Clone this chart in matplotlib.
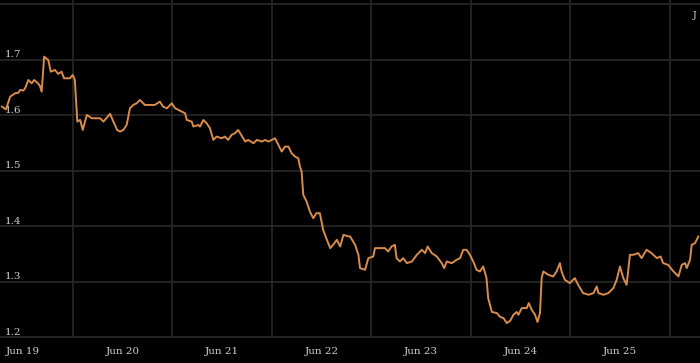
import matplotlib
matplotlib.use('Agg')
import matplotlib.pyplot as plt
import matplotlib.transforms as mtransforms

# hours since Jun 19 00:00 and price
hours = [-5.1, -4.1, -3.1, -1.9, -1.1, -0.7, 0.1, 0.5, 1.3, 2.1, 2.7, 3.6, 4.1, 4.5,
         5.1, 6.1, 6.7, 7.7, 8.5, 9.3, 9.9, 11.3, 12.0, 12.5, 13.1, 13.8, 14.4, 15.4,
         16.6, 18.6, 19.4, 21.0, 21.8, 22.7, 23.4, 24.2, 25.0, 25.8, 26.6, 27.4, 28.2,
         29.4, 31.8, 33.0, 33.8, 34.7, 35.9, 36.7, 38.3, 39.1, 39.5, 40.7, 41.1, 42.3,
         42.7, 43.5, 44.3, 45.1, 45.9, 46.7, 47.9, 48.7, 49.5, 50.3, 51.1, 51.9, 53.6,
         54.3, 55.6, 56.4, 57.6, 58.4, 59.2, 60.0, 60.8, 61.6, 62.4, 63.2, 64.0, 64.8,
         65.6, 66.4, 66.8, 67.2, 67.6, 68.4, 69.2, 70.0, 70.8, 71.6, 72.4, 73.3, 74.1,
         74.8, 75.7, 76.5, 77.3, 78.5, 78.9, 80.1, 80.9, 81.3, 82.5, 83.3, 84.5, 84.9,
         86.1, 87.3, 88.1, 88.9, 89.7, 90.1, 90.9, 91.7, 92.6, 93.8, 95.0, 96.2, 97.0,
         97.6, 98.6, 99.8, 101.0, 101.6, 102.2, 103.4, 104.6, 105.4, 106.2, 107.0, 107.8,
         108.6, 109.4, 110.2, 111.0, 111.8, 112.2, 113.1, 114.3, 115.1, 115.9, 116.7,
         117.5, 118.3, 119.1, 119.5, 120.3, 121.5, 122.0, 122.7, 123.5, 124.1, 124.7,
         125.1, 125.5, 126.7, 127.9, 128.7, 129.5, 129.9, 130.7, 131.9, 133.1, 133.9,
         135.1, 136.4, 137.6, 138.4, 138.8, 140.0, 141.2, 142.4, 143.2, 144.0, 144.8,
         145.6, 146.4, 147.2, 148.4, 149.2, 150.4, 151.6, 152.9, 153.8, 154.4, 155.6,
         156.9, 158.1, 158.9, 159.7, 160.1, 160.9, 161.3, 162.1, 162.9]
prices = [1.616, 1.611, 1.634, 1.640, 1.641, 1.646, 1.645, 1.649, 1.664, 1.658, 1.664,
          1.658, 1.653, 1.643, 1.706, 1.700, 1.679, 1.682, 1.675, 1.679, 1.667, 1.667,
          1.673, 1.664, 1.589, 1.592, 1.574, 1.601, 1.595, 1.595, 1.589, 1.603, 1.589,
          1.574, 1.571, 1.574, 1.583, 1.613, 1.619, 1.622, 1.628, 1.619, 1.619, 1.625,
          1.616, 1.613, 1.622, 1.613, 1.607, 1.604, 1.592, 1.589, 1.580, 1.583, 1.580,
          1.592, 1.586, 1.577, 1.556, 1.562, 1.559, 1.562, 1.556, 1.565, 1.568, 1.574,
          1.553, 1.556, 1.550, 1.556, 1.553, 1.556, 1.553, 1.556, 1.559, 1.547, 1.535,
          1.544, 1.544, 1.532, 1.526, 1.523, 1.508, 1.499, 1.457, 1.445, 1.427, 1.415,
          1.424, 1.424, 1.394, 1.376, 1.361, 1.367, 1.376, 1.364, 1.385, 1.382, 1.382,
          1.367, 1.349, 1.325, 1.322, 1.343, 1.346, 1.361, 1.361, 1.361, 1.355, 1.364,
          1.367, 1.343, 1.337, 1.343, 1.334, 1.337, 1.349, 1.358, 1.352, 1.364, 1.352,
          1.346, 1.334, 1.325, 1.337, 1.334, 1.340, 1.343, 1.358, 1.358, 1.349, 1.337,
          1.322, 1.319, 1.328, 1.307, 1.271, 1.246, 1.244, 1.237, 1.235, 1.226, 1.230,
          1.241, 1.246, 1.241, 1.253, 1.253, 1.262, 1.250, 1.241, 1.228, 1.244, 1.307,
          1.319, 1.313, 1.310, 1.319, 1.334, 1.319, 1.304, 1.298, 1.307, 1.295, 1.280,
          1.277, 1.280, 1.292, 1.280, 1.277, 1.280, 1.289, 1.304, 1.328, 1.307, 1.295,
          1.349, 1.349, 1.352, 1.343, 1.358, 1.352, 1.343, 1.346, 1.334, 1.331, 1.319,
          1.310, 1.331, 1.334, 1.325, 1.340, 1.367, 1.370, 1.382]

day_labels = ['Jun 19', 'Jun 20', 'Jun 21', 'Jun 22', 'Jun 23', 'Jun 24', 'Jun 25']
y_ticks = [1.2, 1.3, 1.4, 1.5, 1.6, 1.7, 1.8]
y_labels = ['1.2', '1.3', '1.4', '1.5', '1.6', '1.7']
corner_label = 'J'

line_color = '#d98c4c'
grid_color = '#282828'
text_color = '#cfcfcf'

px_per_hour = 99.5 / 24

fig = plt.figure(figsize=(7, 3.63), dpi=100, facecolor='black')
ax = fig.add_axes([0, 25.5 / 363, 1, 337.5 / 363])
ax.set_facecolor('black')

ax.plot(hours, prices, color=line_color, lw=1.4, solid_joinstyle='round')

x_left = -23 / px_per_hour
ax.set_xlim(x_left, x_left + 700 / px_per_hour)
ax.set_ylim(1.2, 1.8 + 4.5 / 555)

day_pos = [24 * i for i in range(len(day_labels))]
ax.set_xticks(day_pos)
ax.set_xticklabels(day_labels, family='DejaVu Serif', fontsize=7.5, color=text_color)
ax.set_xticks([d + 12 for d in day_pos], minor=True)
ax.tick_params(axis='x', which='both', length=0, pad=7)
ax.set_yticks(y_ticks)
ax.set_yticklabels([])
ax.tick_params(axis='y', length=0)

ax.grid(True, which='minor', axis='x', color=grid_color, lw=1.2)
ax.grid(True, which='major', axis='y', color=grid_color, lw=1.2)
ax.grid(False, which='major', axis='x')
ax.set_axisbelow(True)

for s in ax.spines.values():
    s.set_visible(False)

# price labels sit just above their grid line, at the left edge
trans = mtransforms.blended_transform_factory(ax.transAxes, ax.transData)
for v, lab in zip(y_ticks, y_labels):
    ax.text(5 / 700, v + 0.0015, lab, transform=trans, ha='left', va='bottom',
            family='DejaVu Serif', fontsize=7.5, color=text_color)

# next day label, only its first letter shows at the right edge
fig.text(693 / 700, 1 - 15 / 363, corner_label, ha='left', va='center',
         family='DejaVu Serif', fontsize=6.5, color=text_color)

fig.savefig('out.png', dpi=100, facecolor='black')
